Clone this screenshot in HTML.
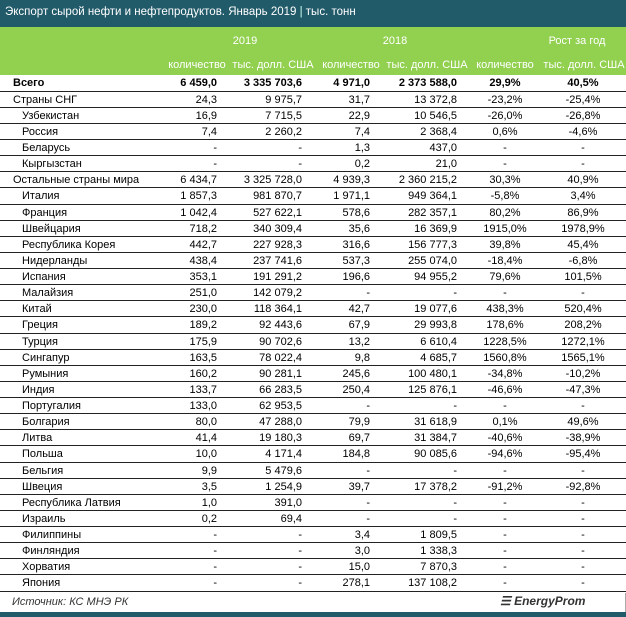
<!DOCTYPE html>
<html><head><meta charset="utf-8"><style>
*{margin:0;padding:0;box-sizing:border-box}
body{width:626px;height:617px;background:#fff;font-family:"Liberation Sans",sans-serif;font-size:11px;color:#000;position:relative;overflow:hidden}
.title{position:absolute;left:0;top:0;width:626px;height:27px;background:#215a69;color:#fff;padding:6px 0 0 5px;font-size:11.5px}
.title span{color:#cfe}
.hdr{position:absolute;left:0;top:27px;width:626px;height:48px;background:#92d050;color:#fff}
.hdr div{position:absolute;text-align:center;font-size:11px}
table{position:absolute;left:0;top:75px;border-collapse:collapse;table-layout:fixed;width:626px}
td{height:16.13px;line-height:13px;padding:2px 0 0 0;border-bottom:1px solid #222;white-space:nowrap;overflow:hidden}
td:nth-child(2),td:nth-child(3),td:nth-child(4),td:nth-child(5){text-align:right}
td:nth-child(2){padding-right:13px}td:nth-child(3){padding-right:13px}
td:nth-child(4){padding-right:12px}td:nth-child(5){padding-right:13px}
td:nth-child(6),td:nth-child(7){text-align:center}
td:first-child{padding-left:13px}
tr.s td:first-child{padding-left:22px}
tr.b td{font-weight:bold}
.foot{position:absolute;left:0;top:593px;width:626px;height:19px;border-right:1px solid #aaa;background:#fff}
.foot .src{position:absolute;left:12px;top:3px;font-style:italic;color:#333;font-size:11px}
.foot .logo{position:absolute;left:500px;top:1px;font-style:italic;font-weight:bold;color:#333;font-size:12px}
.bar{position:absolute;left:0;top:612px;width:626px;height:5px;background:#215a69}
</style></head><body>
<div class="title">Экспорт сырой нефти и нефтепродуктов. Январь 2019 <span>|</span> тыс. тонн</div>
<div class="hdr">
<div style="left:215px;top:8px;width:60px">2019</div>
<div style="left:365px;top:8px;width:60px">2018</div>
<div style="left:537px;top:8px;width:80px">Рост за год</div>
<div style="left:162px;top:32px;width:70px">количество</div>
<div style="left:230px;top:32px;width:86px">тыс. долл. США</div>
<div style="left:316px;top:32px;width:70px">количество</div>
<div style="left:384px;top:32px;width:86px">тыс. долл. США</div>
<div style="left:470px;top:32px;width:70px">количество</div>
<div style="left:541px;top:32px;width:86px">тыс. долл. США</div>
</div>
<table>
<colgroup><col style="width:160px"><col style="width:70px"><col style="width:85px"><col style="width:67px"><col style="width:88px"><col style="width:70px"><col style="width:86px"></colgroup>
<tr class="b"><td>Всего</td><td>6 459,0</td><td>3 335 703,6</td><td>4 971,0</td><td>2 373 588,0</td><td>29,9%</td><td>40,5%</td></tr>
<tr><td>Страны СНГ</td><td>24,3</td><td>9 975,7</td><td>31,7</td><td>13 372,8</td><td>-23,2%</td><td>-25,4%</td></tr>
<tr class="s"><td>Узбекистан</td><td>16,9</td><td>7 715,5</td><td>22,9</td><td>10 546,5</td><td>-26,0%</td><td>-26,8%</td></tr>
<tr class="s"><td>Россия</td><td>7,4</td><td>2 260,2</td><td>7,4</td><td>2 368,4</td><td>0,6%</td><td>-4,6%</td></tr>
<tr class="s"><td>Беларусь</td><td>-</td><td>-</td><td>1,3</td><td>437,0</td><td>-</td><td>-</td></tr>
<tr class="s"><td>Кыргызстан</td><td>-</td><td>-</td><td>0,2</td><td>21,0</td><td>-</td><td>-</td></tr>
<tr><td>Остальные страны мира</td><td>6 434,7</td><td>3 325 728,0</td><td>4 939,3</td><td>2 360 215,2</td><td>30,3%</td><td>40,9%</td></tr>
<tr class="s"><td>Италия</td><td>1 857,3</td><td>981 870,7</td><td>1 971,1</td><td>949 364,1</td><td>-5,8%</td><td>3,4%</td></tr>
<tr class="s"><td>Франция</td><td>1 042,4</td><td>527 622,1</td><td>578,6</td><td>282 357,1</td><td>80,2%</td><td>86,9%</td></tr>
<tr class="s"><td>Швейцария</td><td>718,2</td><td>340 309,4</td><td>35,6</td><td>16 369,9</td><td>1915,0%</td><td>1978,9%</td></tr>
<tr class="s"><td>Республика Корея</td><td>442,7</td><td>227 928,3</td><td>316,6</td><td>156 777,3</td><td>39,8%</td><td>45,4%</td></tr>
<tr class="s"><td>Нидерланды</td><td>438,4</td><td>237 741,6</td><td>537,3</td><td>255 074,0</td><td>-18,4%</td><td>-6,8%</td></tr>
<tr class="s"><td>Испания</td><td>353,1</td><td>191 291,2</td><td>196,6</td><td>94 955,2</td><td>79,6%</td><td>101,5%</td></tr>
<tr class="s"><td>Малайзия</td><td>251,0</td><td>142 079,2</td><td>-</td><td>-</td><td>-</td><td>-</td></tr>
<tr class="s"><td>Китай</td><td>230,0</td><td>118 364,1</td><td>42,7</td><td>19 077,6</td><td>438,3%</td><td>520,4%</td></tr>
<tr class="s"><td>Греция</td><td>189,2</td><td>92 443,6</td><td>67,9</td><td>29 993,8</td><td>178,6%</td><td>208,2%</td></tr>
<tr class="s"><td>Турция</td><td>175,9</td><td>90 702,6</td><td>13,2</td><td>6 610,4</td><td>1228,5%</td><td>1272,1%</td></tr>
<tr class="s"><td>Сингапур</td><td>163,5</td><td>78 022,4</td><td>9,8</td><td>4 685,7</td><td>1560,8%</td><td>1565,1%</td></tr>
<tr class="s"><td>Румыния</td><td>160,2</td><td>90 281,1</td><td>245,6</td><td>100 480,1</td><td>-34,8%</td><td>-10,2%</td></tr>
<tr class="s"><td>Индия</td><td>133,7</td><td>66 283,5</td><td>250,4</td><td>125 876,1</td><td>-46,6%</td><td>-47,3%</td></tr>
<tr class="s"><td>Португалия</td><td>133,0</td><td>62 953,5</td><td>-</td><td>-</td><td>-</td><td>-</td></tr>
<tr class="s"><td>Болгария</td><td>80,0</td><td>47 288,0</td><td>79,9</td><td>31 618,9</td><td>0,1%</td><td>49,6%</td></tr>
<tr class="s"><td>Литва</td><td>41,4</td><td>19 180,3</td><td>69,7</td><td>31 384,7</td><td>-40,6%</td><td>-38,9%</td></tr>
<tr class="s"><td>Польша</td><td>10,0</td><td>4 171,4</td><td>184,8</td><td>90 085,6</td><td>-94,6%</td><td>-95,4%</td></tr>
<tr class="s"><td>Бельгия</td><td>9,9</td><td>5 479,6</td><td>-</td><td>-</td><td>-</td><td>-</td></tr>
<tr class="s"><td>Швеция</td><td>3,5</td><td>1 254,9</td><td>39,7</td><td>17 378,2</td><td>-91,2%</td><td>-92,8%</td></tr>
<tr class="s"><td>Республика Латвия</td><td>1,0</td><td>391,0</td><td>-</td><td>-</td><td>-</td><td>-</td></tr>
<tr class="s"><td>Израиль</td><td>0,2</td><td>69,4</td><td>-</td><td>-</td><td>-</td><td>-</td></tr>
<tr class="s"><td>Филиппины</td><td>-</td><td>-</td><td>3,4</td><td>1 809,5</td><td>-</td><td>-</td></tr>
<tr class="s"><td>Финляндия</td><td>-</td><td>-</td><td>3,0</td><td>1 338,3</td><td>-</td><td>-</td></tr>
<tr class="s"><td>Хорватия</td><td>-</td><td>-</td><td>15,0</td><td>7 870,3</td><td>-</td><td>-</td></tr>
<tr class="s"><td>Япония</td><td>-</td><td>-</td><td>278,1</td><td>137 108,2</td><td>-</td><td>-</td></tr>
</table>
<div class="foot"><div class="src">Источник: КС МНЭ РК</div><div class="logo">&#9776; EnergyProm</div></div>
<div class="bar"></div>
</body></html>
